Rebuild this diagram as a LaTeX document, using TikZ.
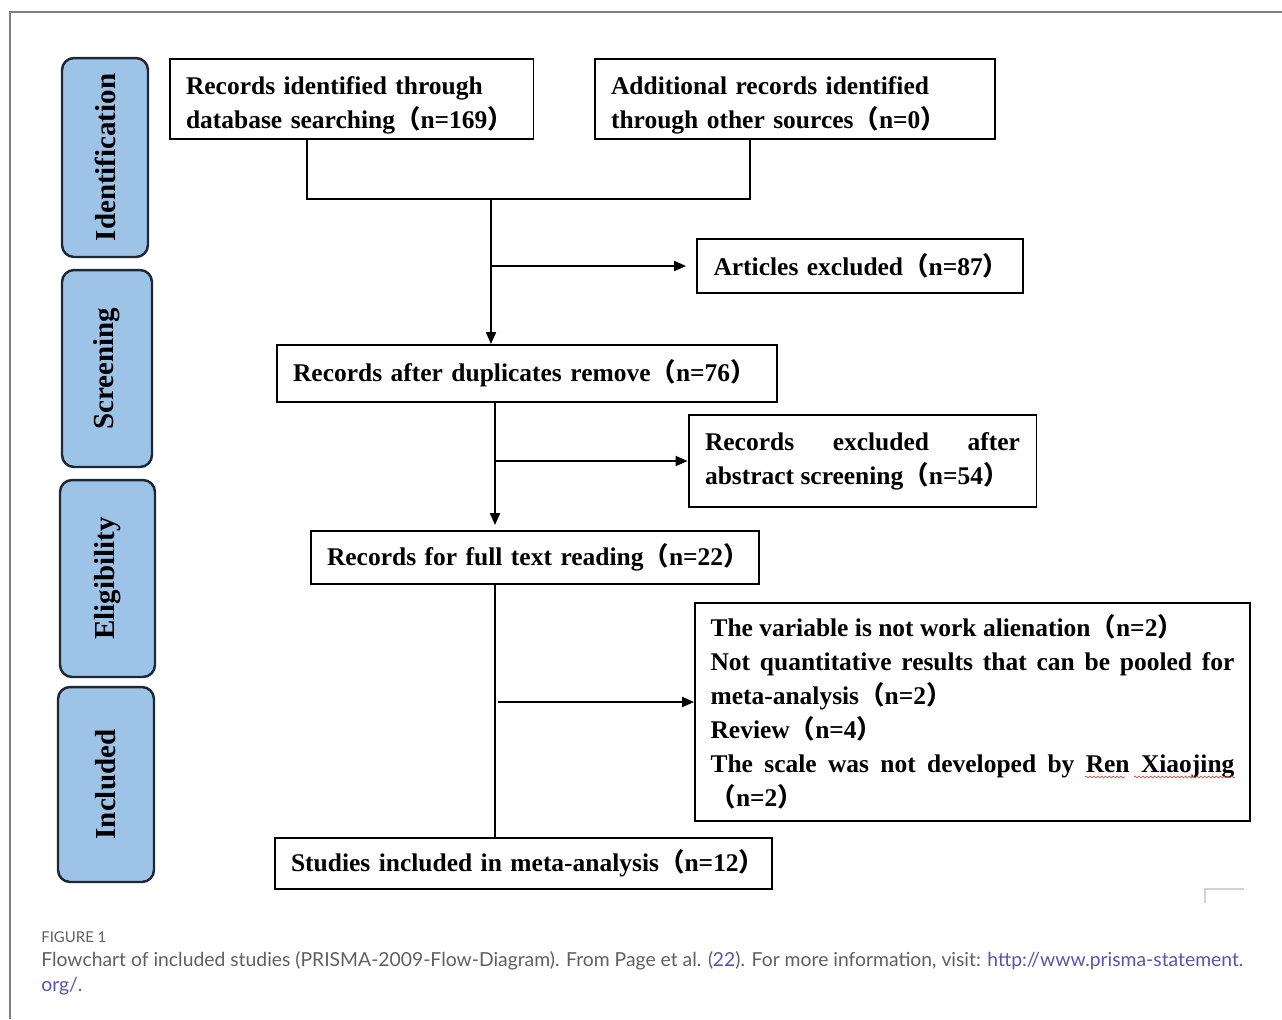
\documentclass[tikz,border=0pt]{standalone}
\usepackage{fontspec}
\usetikzlibrary{arrows.meta,decorations.pathmorphing}
\setmainfont{Liberation Serif}
\newfontfamily\cjk{Noto Sans CJK SC}
\newfontfamily\capfont{Lato}
\definecolor{stagefill}{RGB}{157,195,230}
\definecolor{stageline}{RGB}{30,40,52}
\definecolor{capgray}{RGB}{95,95,95}
\definecolor{linkblue}{RGB}{88,84,176}
\definecolor{wavered}{RGB}{205,80,80}
\newcommand\fwl{{\cjk （}}
\newcommand\fwr{{\cjk ）}}
\newcommand\recfont{\fontsize{14.5}{19.3}\selectfont\bfseries}
\newcommand\stagefont{\fontsize{16.5}{20}\selectfont\bfseries}
\tikzset{
  rec/.style={draw, line width=1.1pt, inner xsep=0.33cm, inner ysep=0.1cm, align=left, font=\recfont},
  stage/.style={draw=stageline, fill=stagefill, rounded corners=0.24cm, line width=1.4pt, rotate=90, font=\stagefont},
  captext/.style={anchor=west, inner sep=0pt, text=capgray, font=\capfont\fontsize{11.0}{14}\selectfont},
  spell/.style={wavered, line width=0.4pt, decorate, decoration={snake, amplitude=0.5pt, segment length=2.2pt}}
}
\begin{document}
\begin{tikzpicture}[x=0.02cm, y=-0.02cm, >={Triangle[length=0.24cm,width=0.2cm]}]
\useasboundingbox (0,0) rectangle (1282,1019);
% frame
\draw[capgray!80, line width=0.8pt] (10,1019) -- (10,12) -- (1282,12);
\draw[gray!35, line width=0.6pt] (1244,889) -- (1205,889) -- (1205,903);
% stages
\node[stage, minimum width=3.98cm, minimum height=1.72cm] (idstage) at (105,157.5) {Identification};
\node[stage, minimum width=3.94cm, minimum height=1.80cm] (scrstage) at (107,368.5) {Screening};
\node[stage, minimum width=3.94cm, minimum height=1.90cm] (eligstage) at (107.5,578.5) {Eligibility};
\node[stage, minimum width=3.90cm, minimum height=1.92cm] (incstage) at (106,784.5) {Included};
% boxes
\node[rec, text width=6.62cm, inner ysep=0.05cm, minimum height=1.6cm] (dbsearch) at (351.5,99)
  {\rule{0pt}{17.5pt}Records identified through\\database searching\fwl n=169\fwr};
\node[rec, text width=7.36cm, inner xsep=0.32cm, inner ysep=0.05cm, minimum height=1.6cm] (othersrc) at (795,99)
  {\rule{0pt}{17.5pt}Additional records identified\\through other sources\fwl n=0\fwr};
\node[rec, text width=5.86cm, minimum height=1.08cm] (artexcl) at (860,266)
  {\mbox{Articles excluded\fwl n=87\fwr}};
\node[rec, text width=9.36cm, inner xsep=0.32cm, minimum height=1.14cm] (dedup) at (527,373.5)
  {\mbox{Records after duplicates remove\fwl n=76\fwr}};
\node[rec, text width=6.30cm, align=justify, minimum height=1.84cm] (absexcl) at (862.5,461)
  {Records excluded after\linebreak abstract screening\fwl n=54\fwr};
\node[rec, text width=8.32cm, inner xsep=0.32cm, minimum height=1.06cm] (fulltext) at (535,557.5)
  {\mbox{Records for full text reading\fwl n=22\fwr}};
\node[rec, text width=10.48cm, inner xsep=0.31cm, align=justify, minimum height=4.36cm] (ftexcl) at (972.5,712)
  {The variable is not work alienation\fwl n=2\fwr\\
   Not quantitative results that can be pooled for\linebreak
   meta-analysis\fwl n=2\fwr\\
   Review\fwl n=4\fwr\\
   The scale was not developed by Ren Xiaojing\linebreak
   \fwl n=2\fwr};
\node[rec, text width=9.30cm, minimum height=1.02cm] (included) at (523.5,863.5)
  {\mbox{Studies included in meta-analysis\fwl n=12\fwr}};
% spell-check marks
\draw[spell] (1085,777) -- (1125,777);
\draw[spell] (1134,777) -- (1235,777);
% connectors
\coordinate (legL) at (307,199);
\coordinate (legR) at (750,199);
\coordinate (merge) at (491,199);
\coordinate (trunk) at (495,0);
\coordinate (ftbranch) at (498,702);
\draw[line width=1.1pt] (dbsearch.south -| legL) -- (legL) -- (legR) -- (othersrc.south -| legR);
\draw[->, line width=1.1pt] (merge) -- (dedup.north -| merge);
\draw[->, line width=1.1pt, shorten >=0.2cm] (merge |- artexcl.west) -- (artexcl.west);
\draw[->, line width=1.1pt, shorten >=0.1cm] (dedup.south -| trunk) -- (fulltext.north -| trunk);
\draw[->, line width=1.1pt] (trunk |- absexcl.west) -- (absexcl.west);
\draw[line width=1.1pt] (fulltext.south -| trunk) -- (included.north -| trunk);
\draw[->, line width=1.1pt] (ftbranch) -- (ftexcl.west |- ftbranch);
% caption
\node[captext, font=\capfont\fontsize{8.5}{10}\selectfont] (figlabel) at (41,937) {FIGURE 1};
\node[captext] (capline) at (41,961) {Flowchart of included studies (PRISMA-2009-Flow-Diagram). From Page et al. (\textcolor{linkblue}{22}). For more information, visit: \textcolor{linkblue}{http://www.prisma-statement.}};
\node[captext] (capend) at (41,986) {\textcolor{linkblue}{org/}.};
\end{tikzpicture}
\end{document}
